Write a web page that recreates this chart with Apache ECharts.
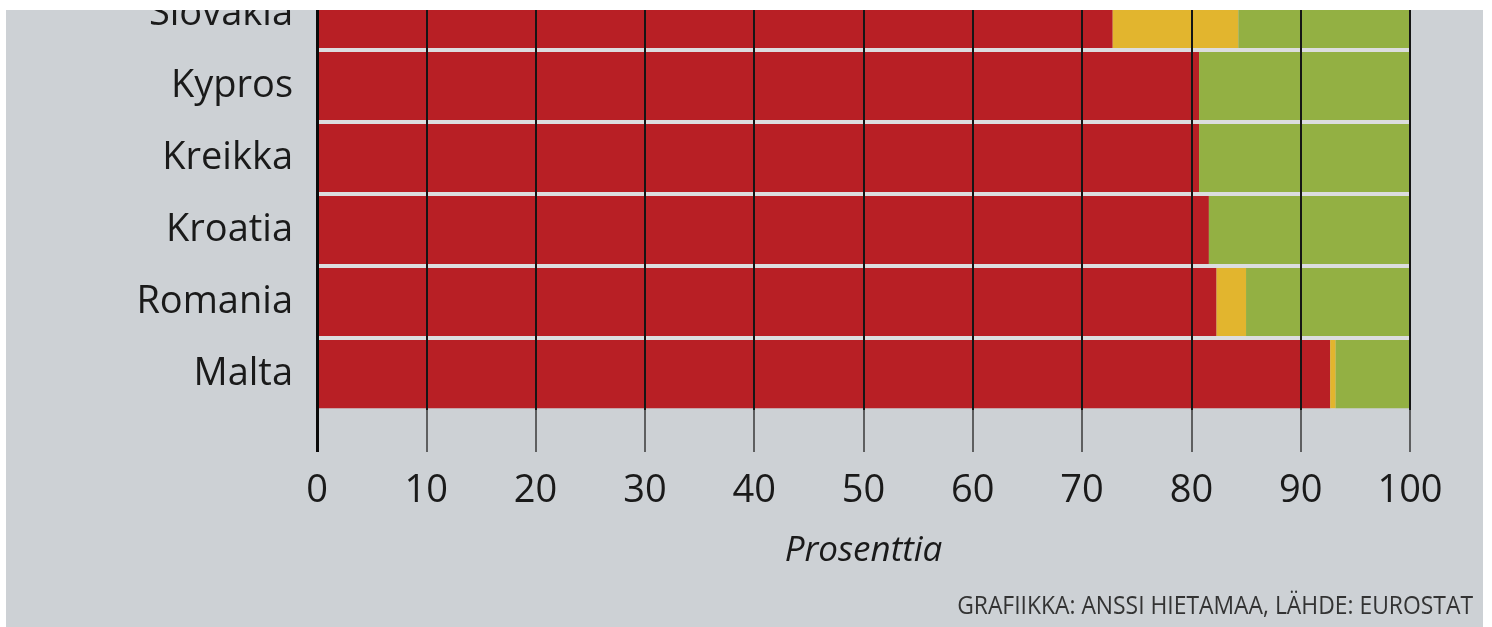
<!DOCTYPE html>
<html>
<head>
<meta charset="utf-8">
<script src="https://cdn.jsdelivr.net/npm/echarts@6/dist/echarts.min.js"></script>
<style>
  html, body { margin: 0; padding: 0; background: #ffffff; width: 1492px; height: 627px; overflow: hidden; }
  #frame { position: absolute; left: 6px; top: 10px; width: 1477px; height: 617px; background: #cdd1d5; overflow: hidden; }
  #chart { position: absolute; left: 0; top: -32px; width: 1477px; height: 649px; }
</style>
</head>
<body>
<div id="frame"><div id="chart"></div></div>
<script>
const categories = ['Slovakia', 'Kypros', 'Kreikka', 'Kroatia', 'Romania', 'Malta'];
const redValues = [72.8, 80.7, 80.7, 81.6, 82.3, 92.7];
const yellowValues = [11.5, 0, 0, 0, 2.7, 0.5];
const greenValues = [15.7, 19.3, 19.3, 18.4, 15.0, 6.8];
const xTicks = [0, 10, 20, 30, 40, 50, 60, 70, 80, 90, 100];
const axisName = 'Prosenttia';
const sourceText = 'GRAFIIKKA: ANSSI HIETAMAA, LÄHDE: EUROSTAT';

const chart = echarts.init(document.getElementById('chart'), null, { renderer: 'canvas' });
const font = '"Open Sans", "Noto Sans", sans-serif';
const sep = '#dcdddf';

const option = {
  animation: false,
  backgroundColor: 'transparent',
  grid: { left: 311, right: 73, top: 0, height: 432, containLabel: false },
  xAxis: [
    {
      type: 'value', min: xTicks[0], max: xTicks[xTicks.length - 1], interval: 10,
      position: 'bottom', z: 4,
      axisLine: { show: false },
      axisTick: { show: true, length: 42, lineStyle: { color: '#3a3a3a', width: 1.5 } },
      splitLine: { show: true, lineStyle: { color: '#151515', width: 2 } },
      axisLabel: { margin: 62, fontSize: 38, fontFamily: font, color: '#1a1a1a' },
      name: axisName, nameLocation: 'middle', nameGap: 124,
      nameTextStyle: { fontSize: 35, fontStyle: 'italic', fontFamily: font, color: '#1a1a1a' }
    },
    {
      type: 'value', min: xTicks[0], max: xTicks[xTicks.length - 1],
      position: 'bottom', z: 6,
      axisLine: { show: false },
      axisTick: { show: true, customValues: [xTicks[0]], length: 42, lineStyle: { color: '#0a0a0a', width: 3 } },
      splitLine: { show: true, lineStyle: { color: '#0a0a0a', width: 3 } },
      axisLabel: { show: false }
    }
  ],
  yAxis: {
    type: 'category', data: categories, inverse: true, z: 3,
    axisLine: { show: false },
    axisTick: { show: false },
    axisLabel: { margin: 24, fontSize: 38, fontFamily: font, color: '#1a1a1a' },
    splitLine: { show: true, lineStyle: { color: ['transparent', sep, sep, sep, sep, sep, 'transparent'], width: 4 } }
  },
  series: [
    { name: 'red', type: 'bar', stack: 'total', data: redValues, barCategoryGap: '5%', itemStyle: { color: '#b81f25' } },
    { name: 'yellow', type: 'bar', stack: 'total', data: yellowValues, barCategoryGap: '5%', itemStyle: { color: '#e2b52e' } },
    { name: 'green', type: 'bar', stack: 'total', data: greenValues, barCategoryGap: '5%', itemStyle: { color: '#93b043' } }
  ],
  graphic: [
    {
      type: 'text', x: 1467, y: 629, scaleX: 0.88,
      style: { text: sourceText, align: 'right', verticalAlign: 'middle', fontSize: 26, fontFamily: font, fill: '#333333' }
    }
  ]
};
chart.setOption(option);
</script>
</body>
</html>
